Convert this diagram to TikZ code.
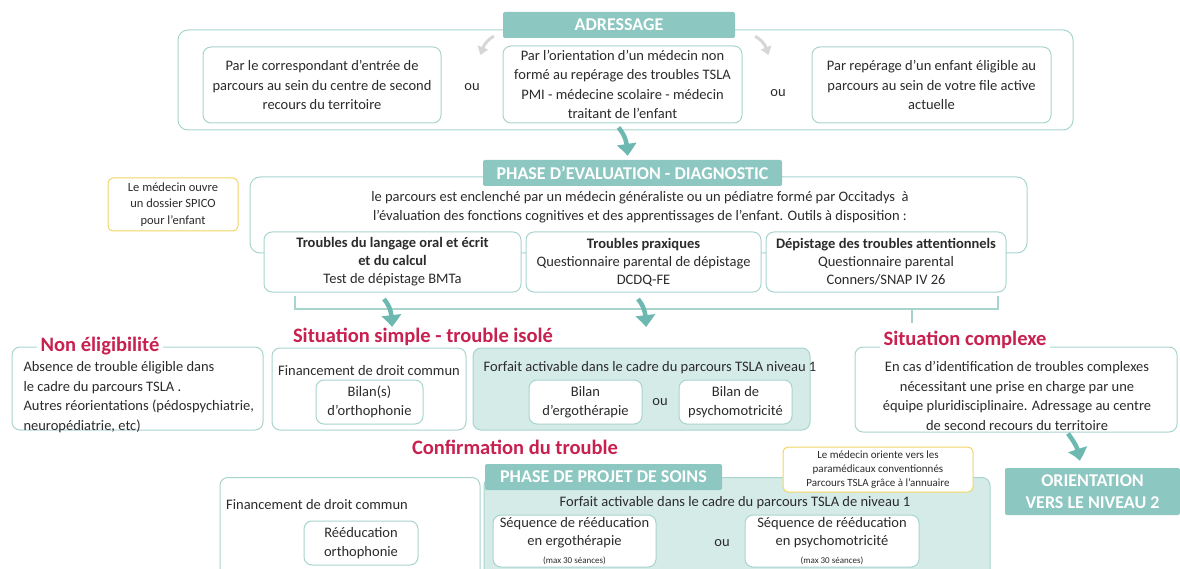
\documentclass[tikz,border=0pt]{standalone}
\usepackage{fontspec}
\setmainfont{Carlito}
\usepackage{tikz}
\usetikzlibrary{
    arrows.meta,
    bending,
    positioning
}
\definecolor{headteal}{HTML}{8CC7C1}
\definecolor{lineteal}{HTML}{A8D4CE}
\definecolor{fillteal}{HTML}{D5EBE8}
\definecolor{arrowteal}{HTML}{6DB9B1}
\definecolor{titlered}{HTML}{C8204F}
\definecolor{noteyellow}{HTML}{F2D565}
\definecolor{textgrey}{HTML}{2B2B2B}
\definecolor{lightgrey}{HTML}{D6D6D6}
\newcommand{\mainsize}{\fontsize{14.5}{19.5}\selectfont}
\newcommand{\cardsize}{\fontsize{14.5}{18}\selectfont}
\newcommand{\notesize}{\fontsize{12.5}{16.5}\selectfont}
\newcommand{\annuairesize}{\fontsize{11}{14}\selectfont}
\newcommand{\tinysize}{\fontsize{9}{11}\selectfont}
\newcommand{\headsize}{\fontsize{18}{22}\selectfont\bfseries}
\newcommand{\titlesize}{\fontsize{20.5}{24}\selectfont\bfseries}
\tikzset{
    % Colors
    head color/.style={fill=headteal},
    line color/.style={draw=lineteal},
    %
    % Boxes
    frame line/.style={line color,line width=1pt,rounded corners=10pt},
    card/.style={frame line,fill=white,rounded corners=8pt,align=center,inner sep=0pt},
    teal card/.style={card,fill=fillteal},
    header/.style={head color,text=white,font=\headsize,rounded corners=2pt,inner sep=0pt,align=center},
    note/.style={draw=noteyellow,line width=1pt,fill=white,rounded corners=5pt,font=\notesize,align=center,inner sep=0pt},
    situation/.style={text=titlered,font=\titlesize,inner sep=4pt},
    %
    % Arrows
    arrow tip/.tip={Triangle[width=19pt,length=12pt,bend]},
    big arr/.style={-{arrow tip},draw=arrowteal,line width=4.5pt},
    grey arr/.style={-{Triangle[width=11pt,length=8pt,bend]},draw=lightgrey,line width=3pt},
    bracket/.style={line color,line width=1.2pt},
}
\tikzstyle{every node}=[font=\mainsize,text=textgrey]

\begin{document}
\begin{tikzpicture}[x=1pt,y=-1pt]
    \useasboundingbox (0,0) rectangle (1180,569);
    \clip (0,0) rectangle (1180,569);
    % Adressage
    \begin{scope}
        \draw[frame line] (178,30) rectangle (1073,130);
        \node[header,minimum width=232pt,minimum height=26pt] (adrhead) at (619,25) {ADRESSAGE};
        \node[card,minimum width=238pt,minimum height=76pt] (correspondant) at (322,85) {Par le correspondant d'entrée de\\parcours au sein du centre de second\\recours du territoire};
        \node (ou1) at (472,87) {ou};
        \node[card,minimum width=239pt,minimum height=77pt] (orientation) at (622.5,84.5) {Par l'orientation d'un médecin non\\formé au repérage des troubles TSLA\\PMI - médecine scolaire - médecin\\traitant de l'enfant};
        \node (ou2) at (778,93) {ou};
        \node[card,minimum width=239pt,minimum height=76pt] (reperage) at (931.5,85) {Par repérage d'un enfant éligible au\\parcours au sein de votre file active\\actuelle};
        \draw[grey arr] ([shift={(-9,-2)}]adrhead.south west) to[bend right=25] ([shift={(-22,17)}]adrhead.south west);
        \draw[grey arr] ([shift={(20,-2)}]adrhead.south east) to[bend left=25] ([shift={(33,17)}]adrhead.south east);
    \end{scope}
    % Evaluation - diagnostic
    \begin{scope}
        \draw[frame line] (250,177) rectangle (1027,253);
        \node[header,minimum width=299pt,minimum height=26pt] (evalhead) at (632.5,173) {PHASE D'EVALUATION - DIAGNOSTIC};
        \node[note,minimum width=130pt,minimum height=53pt] (spico) at (173,204.5) {Le médecin ouvre\\un dossier SPICO\\pour l'enfant};
        \node[align=center] (enclenche) at (640,207) {le parcours est enclenché par un médecin généraliste ou un pédiatre formé par Occitadys~ à\\l'évaluation des fonctions cognitives et des apprentissages de l'enfant. Outils à disposition :};
        \node[card,font=\cardsize,minimum width=257pt,minimum height=60pt] (langage) at (392.5,262) {\textbf{Troubles du langage oral et écrit}\\\textbf{et du calcul}\\Test de dépistage BMTa};
        \node[card,font=\cardsize,minimum width=235pt,minimum height=60pt] (praxiques) at (643.5,262) {\textbf{Troubles praxiques}\\Questionnaire parental de dépistage\\DCDQ-FE};
        \node[card,font=\cardsize,minimum width=240pt,minimum height=60pt] (attention) at (886,262) {\textbf{Dépistage des troubles attentionnels}\\Questionnaire parental\\Conners/SNAP IV 26};
        \draw[big arr] ([shift={(-4,4)}]orientation.south) to[out=-50,in=90] ([shift={(-5,-4)}]evalhead.north);
        \coordinate (brleft) at (295,296);
        \coordinate (brright) at (998,296);
        \coordinate (brmid) at (912,309);
        \coordinate (brtip) at (912,323);
        \draw[bracket] (brleft) |- (brright |- brmid) -- (brright);
        \draw[bracket] (brmid) -- (brtip);
        \coordinate (s1) at (384,299);
        \coordinate (e1) at (392,327);
        \coordinate (s2) at (638,299);
        \coordinate (e2) at (646,327);
        \draw[big arr] (s1) to[out=-50,in=90] (e1);
        \draw[big arr] (s2) to[out=-50,in=90] (e2);
    \end{scope}
    % Situations
    \begin{scope}
        \node[card,minimum width=251pt,minimum height=83pt] (noneligible) at (137.5,388.5) {};
        \node[situation,fill=white] (noneligtitle) at (100,346) {Non éligibilité};
        \node[align=left,anchor=west] (absence) at (20,397) {Absence de trouble éligible dans\\le cadre du parcours TSLA .\\Autres réorientations (pédospychiatrie,\\neuropédiatrie, etc)};
        \node[situation] (simple) at (423,337) {Situation simple - trouble isolé};
        \node[card,minimum width=194pt,minimum height=82pt] (droit) at (369,389) {};
        \node (droittext) at (369,371) {Financement de droit commun};
        \node[card,minimum width=107pt,minimum height=44pt] (bilanortho) at (369.5,402) {Bilan(s)\\d'orthophonie};
        \node[teal card,minimum width=337pt,minimum height=82pt] (forfait) at (641.5,389) {};
        \node (forfaittext) at (650,368) {Forfait activable dans le cadre du parcours TSLA niveau 1};
        \node[card,minimum width=113pt,minimum height=44pt] (ergo) at (585.5,402) {Bilan\\d'ergothérapie};
        \node (ou3) at (660,402) {ou};
        \node[card,minimum width=113pt,minimum height=44pt] (psycho) at (735.5,402) {Bilan de\\psychomotricité};
        \node[card,minimum width=322pt,minimum height=85pt] (complexe) at (1016,389.5) {};
        \node[situation,fill=white] (complexetitle) at (965,340) {Situation complexe};
        \node[align=center] (complexetext) at (1017,396) {En cas d'identification de troubles complexes\\nécessitant une prise en charge par une\\équipe pluridisciplinaire. Adressage au centre\\de second recours du territoire};
    \end{scope}
    % Projet de soins
    \begin{scope}
        \node[situation] (confirmation) at (515,447) {Confirmation du trouble};
        \node[card,anchor=north,minimum width=260pt,minimum height=100pt] (droit2) at (350,477) {};
        \node (droit2text) at (317,505) {Financement de droit commun};
        \node[card,minimum width=114pt,minimum height=44pt] (reeduc) at (361,543) {Rééducation\\orthophonie};
        \node[teal card,anchor=north,minimum width=506pt,minimum height=100pt] (forfait2) at (737,477) {};
        \node[header,minimum width=237pt,minimum height=26pt] (projethead) at (603.5,477) {PHASE DE PROJET DE SOINS};
        \node[note,font=\annuairesize,minimum width=190pt,minimum height=45pt] (annuaire) at (878,469.5) {Le médecin oriente vers les\\paramédicaux conventionnés\\Parcours TSLA grâce à l'annuaire};
        \node (forfait2text) at (735,503) {Forfait activable dans le cadre du parcours TSLA de niveau 1};
        \node[card,font=\cardsize,minimum width=163pt,minimum height=52pt] (seqergo) at (574.5,541) {Séquence de rééducation\\en ergothérapie\\{\tinysize (max 30 séances)}};
        \node (ou4) at (722,543) {ou};
        \node[card,font=\cardsize,minimum width=174pt,minimum height=52pt] (seqpsycho) at (832,541) {Séquence de rééducation\\en psychomotricité\\{\tinysize (max 30 séances)}};
        \node[header,minimum width=175pt,minimum height=47pt] (niveau2) at (1092.5,491.5) {ORIENTATION\\VERS LE NIVEAU 2};
        \draw[big arr] ([shift={(52,1)}]complexe.south) to[out=-55,in=90] ([shift={(-13,-7)}]niveau2.north);
    \end{scope}
\end{tikzpicture}
\end{document}
